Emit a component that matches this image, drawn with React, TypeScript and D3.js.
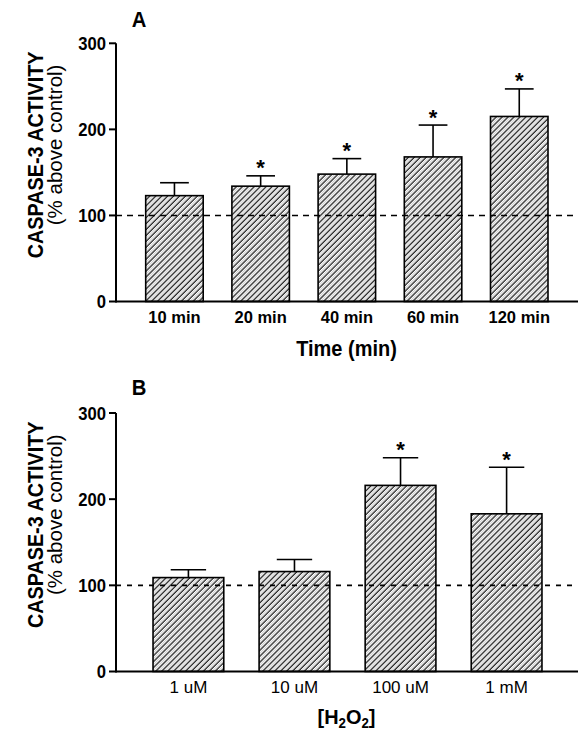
import React from "react";
import * as d3 from "d3";

// ---- Data ----
const timeLabels = ["10 min", "20 min", "40 min", "60 min", "120 min"];
const timeMeans = [123, 134, 148, 168, 215];
const timeErrors = [15, 12, 18, 37, 32];
const timeSignificant = [false, true, true, true, true];

const doseLabels = ["1 uM", "10 uM", "100 uM", "1 mM"];
const doseMeans = [109, 116, 216, 183];
const doseErrors = [9, 14, 32, 54];
const doseSignificant = [false, false, true, true];

const yTicks = [0, 100, 200, 300];
const controlLevel = 100;

const FONT = "'Liberation Sans', Arial, Helvetica, sans-serif";

type PanelProps = {
  letter: string;
  labels: string[];
  means: number[];
  errors: number[];
  sig: boolean[];
  y0: number;
  y300: number;
  xRange: [number, number];
  tickBold: boolean;
  title: React.ReactNode;
  letterY: number;
  dash: string;
};

function Panel(p: PanelProps) {
  const x = d3
    .scaleBand<string>()
    .domain(p.labels)
    .range(p.xRange)
    .paddingInner(0.333)
    .paddingOuter(0.5);
  const y = d3.scaleLinear().domain([0, 300]).range([p.y0, p.y300]);
  const axisX = 116;
  const axisEnd = 578;
  const mid = (y(0) + y(300)) / 2;
  const bw = x.bandwidth();
  return (
    <g>
      <text
        transform={`translate(139,${p.letterY}) scale(0.9,1)`}
        textAnchor="middle"
        fontSize={22.5}
        fontWeight="bold"
        fontFamily={FONT}
      >
        {p.letter}
      </text>
      {/* y axis title */}
      <text
        transform={`translate(43,${mid - 17.5}) rotate(-90) scale(0.9,1)`}
        textAnchor="middle"
        fontSize={22}
        fontWeight="bold"
        fontFamily={FONT}
      >
        CASPASE-3 ACTIVITY
      </text>
      <text
        transform={`translate(62,${mid - 27.5}) rotate(-90)`}
        textAnchor="middle"
        fontSize={20.5}
        fontFamily={FONT}
      >
        (% above control)
      </text>
      {/* bars */}
      {p.labels.map((l, i) => {
        const bx = x(l)!;
        const top = y(p.means[i]);
        const cap = y(p.means[i] + p.errors[i]);
        const cx = bx + bw / 2;
        return (
          <g key={l}>
            <line x1={cx} x2={cx} y1={top} y2={cap} stroke="#000" strokeWidth={1.6} />
            <line x1={cx - bw / 4} x2={cx + bw / 4} y1={cap} y2={cap} stroke="#000" strokeWidth={1.6} />
            <rect
              x={bx}
              y={top}
              width={bw}
              height={y(0) - top}
              fill="url(#hatch)"
              stroke="#000"
              strokeWidth={1.6}
            />
            {p.sig[i] && (
              <text x={cx} y={cap - 0.5} textAnchor="middle" fontSize={22} fontWeight="bold" fontFamily={FONT}>
                *
              </text>
            )}
            <text
              x={cx}
              y={y(0) + 21}
              textAnchor="middle"
              fontSize={p.tickBold ? 16.5 : 17}
              fontWeight={p.tickBold ? "bold" : "normal"}
              fontFamily={FONT}
            >
              {l}
            </text>
          </g>
        );
      })}
      {/* control dashed line */}
      <line
        x1={axisX}
        x2={axisEnd}
        y1={y(controlLevel)}
        y2={y(controlLevel)}
        stroke="#000"
        strokeWidth={1.6}
        strokeDasharray={p.dash}
      />
      {/* axes */}
      <line x1={axisX} x2={axisX} y1={y(0) + 1} y2={y(300)} stroke="#000" strokeWidth={2} />
      <line x1={axisX} x2={axisEnd} y1={y(0)} y2={y(0)} stroke="#000" strokeWidth={2} />
      {yTicks.map((t) => (
        <g key={t}>
          <line x1={axisX - 7} x2={axisX} y1={y(t)} y2={y(t)} stroke="#000" strokeWidth={2} />
          <text
            transform={`translate(${axisX - 10},${y(t) + 6.5}) scale(0.9,1)`}
            textAnchor="end"
            fontSize={18.5}
            fontWeight="bold"
            fontFamily={FONT}
          >
            {t}
          </text>
        </g>
      ))}
      <g>{p.title}</g>
    </g>
  );
}

export default function App() {
  return (
    <svg
      width={585}
      height={737}
      style={{ position: "absolute", left: 0, top: 0, display: "block", background: "#fff" }}
    >
      <defs>
        <pattern
          id="hatch"
          patternUnits="userSpaceOnUse"
          width={4.2}
          height={4.2}
          patternTransform="rotate(45)"
        >
          <rect width={4.2} height={4.2} fill="#fff" />
          <line x1={1} x2={1} y1={0} y2={4.2} stroke="#222" strokeWidth={1.3} />
          <line x1={3.1} x2={3.1} y1={0} y2={4.2} stroke="#bbb" strokeWidth={0.7} />
        </pattern>
      </defs>
      <rect width={585} height={737} fill="#fff" />
      <Panel
        letter="A"
        labels={timeLabels}
        means={timeMeans}
        errors={timeErrors}
        sig={timeSignificant}
        y0={301.5}
        y300={43.3}
        xRange={[102.6, 591.1]}
        tickBold={true}
        letterY={27}
        dash="6,5"
        title={
          <text
            transform="translate(346.5,356) scale(0.93,1)"
            textAnchor="middle"
            fontSize={21.5}
            fontWeight="bold"
            fontFamily={FONT}
          >
            Time (min)
          </text>
        }
      />
      <Panel
        letter="B"
        labels={doseLabels}
        means={doseMeans}
        errors={doseErrors}
        sig={doseSignificant}
        y0={671.5}
        y300={413}
        xRange={[100, 595]}
        tickBold={false}
        letterY={395}
        dash="5,6"
        title={
          <text
            transform="translate(346.5,724) scale(0.95,1)"
            textAnchor="middle"
            fontSize={21}
            fontWeight="bold"
            fontFamily={FONT}
          >
            [H
            <tspan fontSize={14} dy={4}>2</tspan>
            <tspan dy={-4}>O</tspan>
            <tspan fontSize={14} dy={4}>2</tspan>
            <tspan dy={-4}>]</tspan>
          </text>
        }
      />
    </svg>
  );
}
